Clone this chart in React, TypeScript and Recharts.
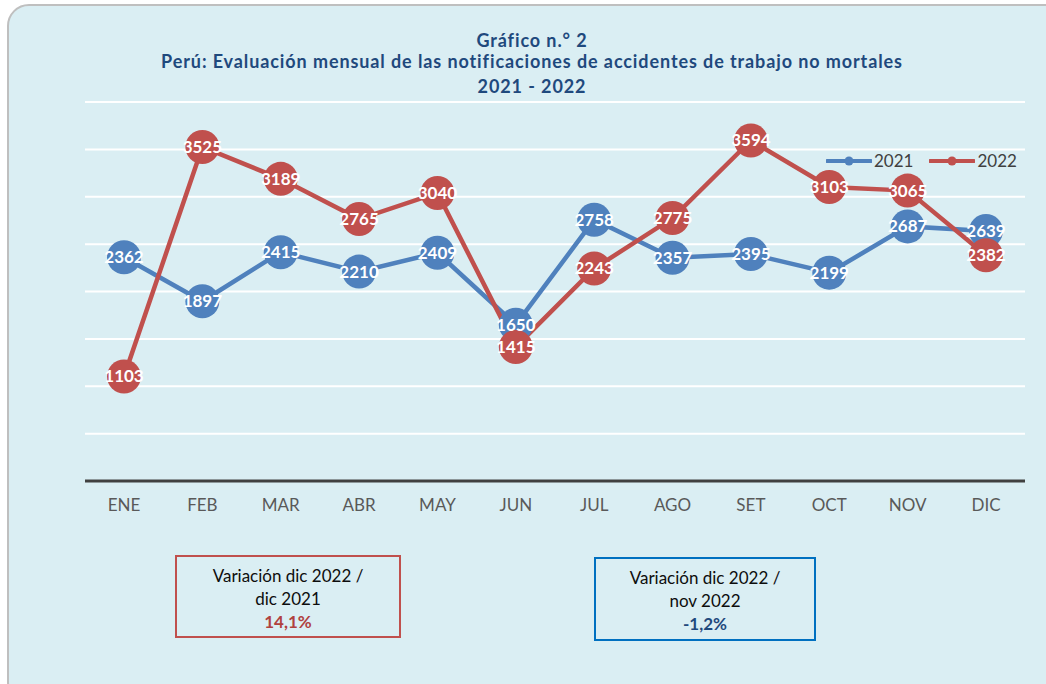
import React from 'react';
import { LineChart, Line, XAxis, YAxis, CartesianGrid, Legend } from 'recharts';

const months = ['ENE', 'FEB', 'MAR', 'ABR', 'MAY', 'JUN', 'JUL', 'AGO', 'SET', 'OCT', 'NOV', 'DIC'];
const values2021 = [2362, 1897, 2415, 2210, 2409, 1650, 2758, 2357, 2395, 2199, 2687, 2639];
const values2022 = [1103, 3525, 3189, 2765, 3040, 1415, 2243, 2775, 3594, 3103, 3065, 2382];
const yTicks = [0, 500, 1000, 1500, 2000, 2500, 3000, 3500, 4000];
const titleLines = ['Gráfico n.° 2', 'Perú: Evaluación mensual de las notificaciones de accidentes de trabajo no mortales', '2021 - 2022'];
const titleCenters = [40, 61, 86];

const data = months.map((m, i) => ({ month: m, y2021: values2021[i], y2022: values2022[i] }));

const BLUE = '#4F81BD';
const RED = '#C0504D';
const FONT = 'Lato, "Open Sans", sans-serif';

const makeLabel = () => (props: any) => {
  const { x, y, value } = props;
  return (
    <text x={x} y={y} dy={6} textAnchor="middle" fill="#FFFFFF" fontSize={17} fontWeight={700} fontFamily={FONT}>
      {value}
    </text>
  );
};

const LegendContent = (props: any) => {
  const { payload } = props;
  return (
    <div style={{ display: 'flex', alignItems: 'center', fontFamily: FONT, fontSize: 17, color: '#404040' }}>
      {(payload || []).map((p: any) => (
        <div key={p.value} style={{ display: 'flex', alignItems: 'center', marginRight: 16 }}>
          <svg width={46} height={12} style={{ marginRight: 2 }}>
            <line x1={1} y1={6} x2={45} y2={6} stroke={p.color} strokeWidth={4} strokeLinecap="round" />
            <circle cx={23} cy={6} r={4.5} fill={p.color} />
          </svg>
          <span>{p.value}</span>
        </div>
      ))}
    </div>
  );
};

const boxText: React.CSSProperties = {
  position: 'absolute',
  boxSizing: 'border-box',
  textAlign: 'center',
  fontFamily: FONT,
  fontSize: 17,
  lineHeight: '23px',
  color: '#0D0D0D',
  paddingTop: 7,
};

export default function App() {
  return (
    <div style={{ position: 'absolute', left: 0, top: 0, width: 1046, height: 684, overflow: 'hidden', background: '#FFFFFF' }}>
      <div
        style={{
          position: 'absolute',
          left: 7,
          top: 4,
          width: 1070,
          height: 700,
          background: '#DAEEF3',
          border: '2px solid #BFBFBF',
          borderRadius: 22,
          boxSizing: 'border-box',
        }}
      />
      <div style={{ position: 'absolute', left: 0, top: 0 }}>
        <LineChart width={1046} height={684} data={data} margin={{ top: 102, right: 21, left: 85, bottom: 173 }}>
          <CartesianGrid horizontal vertical={false} stroke="#FFFFFF" strokeWidth={2} />
          <YAxis hide domain={[0, 4000]} ticks={yTicks} />
          <XAxis
            dataKey="month"
            height={30}
            padding={{ left: 39, right: 39 }}
            axisLine={{ stroke: '#404040', strokeWidth: 3 }}
            tickLine={false}
            tickSize={0}
            tickMargin={18}
            tick={{ fill: '#595959', fontSize: 17, fontFamily: FONT }}
          />
          <Legend
            layout="horizontal"
            verticalAlign="middle"
            align="center"
            content={<LegendContent />}
            wrapperStyle={{ position: 'absolute', left: 826, top: 150, width: 220, height: 22 }}
          />
          <Line
            name="2021"
            dataKey="y2021"
            stroke={BLUE}
            strokeWidth={4.5}
            dot={{ r: 17, fill: BLUE, stroke: 'none' }}
            activeDot={false}
            label={makeLabel()}
            isAnimationActive={false}
          />
          <Line
            name="2022"
            dataKey="y2022"
            stroke={RED}
            strokeWidth={4.5}
            dot={{ r: 17, fill: RED, stroke: 'none' }}
            activeDot={false}
            label={makeLabel()}
            isAnimationActive={false}
          />
        </LineChart>
      </div>
      {titleLines.map((t, i) => (
        <div
          key={t}
          style={{
            position: 'absolute',
            left: 0,
            top: titleCenters[i] - 12,
            width: 1064,
            height: 24,
            lineHeight: '24px',
            textAlign: 'center',
            fontFamily: FONT,
            fontWeight: 700,
            fontSize: 18,
            letterSpacing: 0.9,
            color: '#1F497D',
          }}
        >
          {t}
        </div>
      ))}
      <div style={{ ...boxText, left: 175, top: 555, width: 226, height: 83, border: '2px solid #C0504D' }}>
        <div>Variación dic 2022 /</div>
        <div>dic 2021</div>
        <div style={{ color: '#B0413E', fontWeight: 700 }}>14,1%</div>
      </div>
      <div style={{ ...boxText, left: 594, top: 557, width: 222, height: 84, border: '2px solid #0070C0' }}>
        <div>Variación dic 2022 /</div>
        <div>nov 2022</div>
        <div style={{ color: '#1F497D', fontWeight: 700 }}>-1,2%</div>
      </div>
    </div>
  );
}
